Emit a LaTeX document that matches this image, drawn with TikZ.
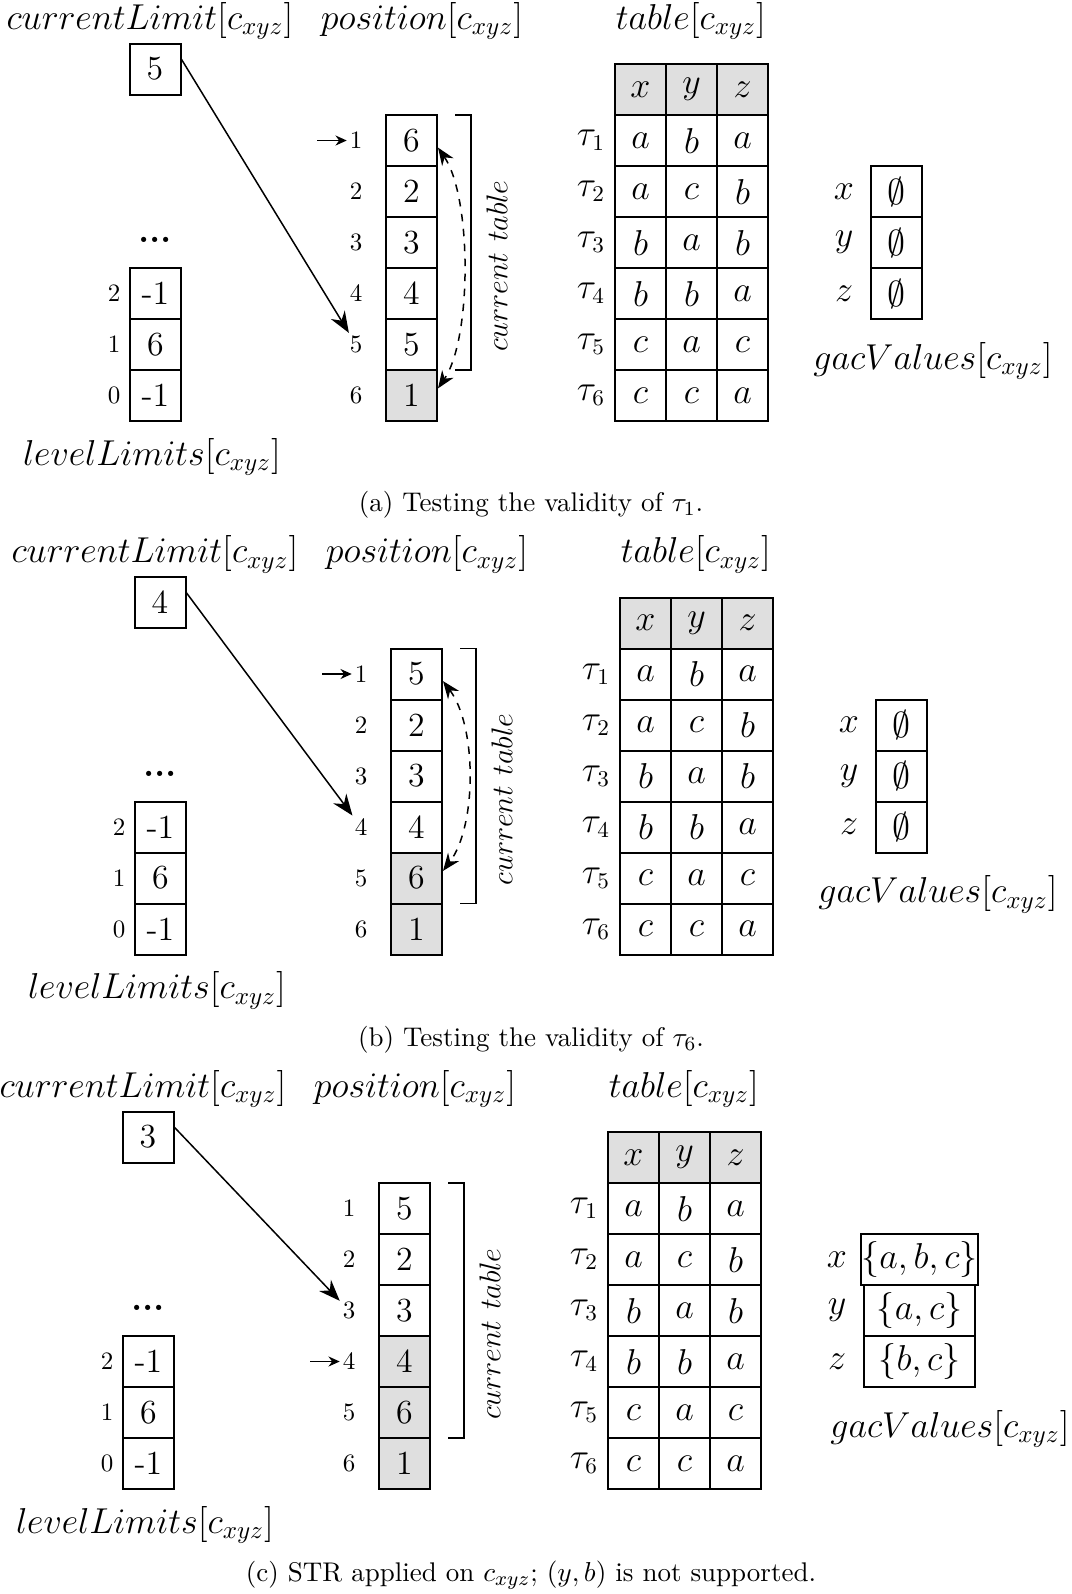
\documentclass[tikz,border=0pt]{standalone}
\usepackage{amssymb,amsmath}
\usepackage{tikz}
\usetikzlibrary{arrows.meta,positioning}
\tikzset{cell/.style={draw,line width=0.8pt,minimum size=20.4pt,inner sep=0pt,font=\fontsize{13.5}{16}\selectfont},
         idx/.style={font=\normalsize,inner sep=1pt},
         lbl/.style={font=\Large,inner sep=0pt},
         val/.style={font=\fontsize{13.5}{16}\selectfont,inner sep=0pt},
         arr/.style={line width=0.6pt,-{Stealth[length=8.5pt,width=6.5pt]}},
         smallarr/.style={line width=0.6pt,-{Stealth[length=4.5pt,width=4pt]}},
         dasharr/.style={line width=0.6pt,dashed,{Stealth[length=7pt,width=5.5pt]}-{Stealth[length=7pt,width=5.5pt]}},
         hdr/.style={cell,fill=gray!25}}

\begin{document}
\begin{tikzpicture}[x=0.4pt,y=-0.4pt]
\useasboundingbox (0,0) rectangle (1072,1594);

% parts that all three pictures share
\foreach \p/\dx/\dy/\gl in {a/0/0/933,b/5/533.5/933,c/-7/1068/957}
{
\begin{scope}[shift={(\dx,\dy)}]
\node[lbl] (\p-lcl) at (150,21) {$currentLimit[c_{xyz}]$};
\node[lbl] (\p-lpos) at (422,21) {$position[c_{xyz}]$};
\node[lbl] (\p-ltab) at (691,21) {$table[c_{xyz}]$};
\node[lbl] (\p-lll) at (152,457) {$levelLimits[c_{xyz}]$};
\node[lbl] (\p-lgac) at (\gl,361) {$gacValues[c_{xyz}]$};

\foreach \i in {1,...,6}
  \node[idx] (\p-i\i) at (356,89.5+51*\i) {\i};

% table
\node[hdr] (\p-hx) at (640.5,89.5) {$x$};
\node[hdr] (\p-hy) at (691.5,89.5) {$y$};
\node[hdr] (\p-hz) at (742.5,89.5) {$z$};
\foreach \r/\va/\vb/\vc in {1/a/b/a,2/a/c/b,3/b/a/b,4/b/b/a,5/c/a/c,6/c/c/a}
  {
    \node[val] (\p-tau\r) at (591,89.5+51*\r) {$\tau_{\r}$};
    \node[cell] (\p-t\r x) at (640.5,89.5+51*\r) {$\va$};
    \node[cell] (\p-t\r y) at (691.5,89.5+51*\r) {$\vb$};
    \node[cell] (\p-t\r z) at (742.5,89.5+51*\r) {$\vc$};
  }

% level limits
\node[font=\Large\bfseries] (\p-dots) at (155,240) {...};
\foreach \i/\l/\v in {1/2/-1,2/1/6,3/0/-1}
  {
    \node[cell] (\p-ll\l) at (155.5,242.5+51*\i) {\v};
    \node[idx] (\p-lli\l) at (114,242.5+51*\i) {\l};
  }

\foreach \i/\v in {1/x,2/y,3/z}
  \node[val] (\p-gl\v) at (844,140.5+51*\i) {$\v$};

\draw[line width=0.6pt] (455,115) -- (471,115) -- (471,370) -- (455,370);
\node[font=\fontsize{13}{15}\selectfont,inner sep=0pt,rotate=90] (\p-cur) at (497,266) {$current\ table$};
\end{scope}
}

% (a)
\begin{scope}
\node[cell] (a-cl) at (155,69) {5};
\foreach \i/\v/\f in {1/6/white,2/2/white,3/3/white,4/4/white,5/5/white,6/1/gray!25}
  \node[cell,fill=\f] (a-p\i) at (411.5,89.5+51*\i) {\v};
\foreach \i/\v in {1/x,2/y,3/z}
  \node[cell] (a-g\v) at (896.5,140.5+51*\i) {$\emptyset$};
\coordinate (a-s) at (317,140.5);
\end{scope}
\draw[smallarr] (a-s) -- (a-i1);
\draw[arr] (a-cl.20) -- (a-i5);
\draw[dasharr] (a-p1.-15) .. controls +(34,50) and +(34,-50) .. (a-p6.15);
\node[font=\fontsize{10.8}{13}\selectfont] (capa) at (531,505) {(a) Testing the validity of $\tau_1$.};

% (b)
\begin{scope}[shift={(5,533.5)}]
\node[cell] (b-cl) at (155,69) {4};
\foreach \i/\v/\f in {1/5/white,2/2/white,3/3/white,4/4/white,5/6/gray!25,6/1/gray!25}
  \node[cell,fill=\f] (b-p\i) at (411.5,89.5+51*\i) {\v};
\foreach \i/\v in {1/x,2/y,3/z}
  \node[cell] (b-g\v) at (896.5,140.5+51*\i) {$\emptyset$};
\coordinate (b-s) at (317,140.5);
\end{scope}
\draw[smallarr] (b-s) -- (b-i1);
\draw[arr] (b-cl.20) -- (b-i4);
\draw[dasharr] (b-p1.-15) .. controls +(34,45) and +(34,-45) .. (b-p5.15);
\node[font=\fontsize{10.8}{13}\selectfont] (capb) at (531,1040) {(b) Testing the validity of $\tau_6$.};

% (c)
\begin{scope}[shift={(-7,1068)}]
\node[cell] (c-cl) at (155,69) {3};
\foreach \i/\v/\f in {1/5/white,2/2/white,3/3/white,4/4/gray!25,5/6/gray!25,6/1/gray!25}
  \node[cell,fill=\f] (c-p\i) at (411.5,89.5+51*\i) {\v};
\foreach \i/\v/\s in {1/x/{\{a,b,c\}},2/y/{\{a,c\}},3/z/{\{b,c\}}}
  \node[cell,minimum width=44.4pt] (c-g\v) at (926.5,140.5+51*\i) {$\s$};
\coordinate (c-s) at (317,293.5);
\end{scope}
\draw[smallarr] (c-s) -- (c-i4);
\draw[arr] (c-cl.20) -- (c-i3);
\node[font=\fontsize{10.8}{13}\selectfont] (capc) at (531,1575) {(c) STR applied on $c_{xyz}$; $(y,b)$ is not supported.};
\end{tikzpicture}
\end{document}
